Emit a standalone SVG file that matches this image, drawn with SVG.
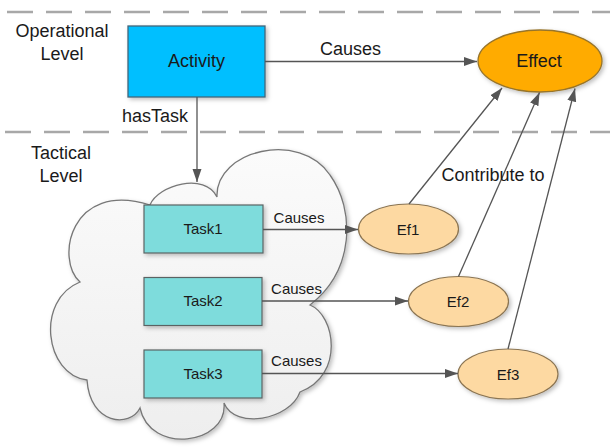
<svg xmlns="http://www.w3.org/2000/svg" width="610" height="447" viewBox="0 0 610 447">
  <style>
    .lvl { stroke: #a8a8a8; stroke-width: 2.5; stroke-dasharray: 26 13; fill: none; }
    .txt { font-family: "Liberation Sans", Arial, sans-serif; fill: #1a1a1a; }
    .big { font-size: 18px; }
    .small { font-size: 15px; }
    .conn { stroke: #555; stroke-width: 1.3; fill: none; }
    .task { fill: #7edcdc; stroke: #5a6464; stroke-width: 1.2; }
    .ef { fill: #fdd9a2; stroke: #8a7452; stroke-width: 1.2; }
  </style>
  <defs>
    <marker id="arrow" markerUnits="userSpaceOnUse" markerWidth="14" markerHeight="10" refX="13" refY="5" orient="auto">
      <path d="M0,0.5 L13,5 L0,9.5 Z" fill="#555"/>
    </marker>
    <linearGradient id="cloudFill" x1="0" y1="0" x2="0" y2="1">
      <stop offset="0" stop-color="#fbfbfb"/>
      <stop offset="1" stop-color="#eeeeee"/>
    </linearGradient>
    <filter id="shadow" x="-10%" y="-10%" width="130%" height="130%">
      <feDropShadow dx="2" dy="2" stdDeviation="2" flood-color="#000" flood-opacity="0.25"/>
    </filter>
  </defs>

  <!-- level separators -->
  <line class="lvl" x1="7" y1="12" x2="610" y2="12"/>
  <line class="lvl" x1="5" y1="132" x2="610" y2="132"/>

  <!-- level captions -->
  <g id="operational-level" class="txt big" text-anchor="middle">
    <text x="62" y="37">Operational</text>
    <text x="62" y="60">Level</text>
  </g>
  <g id="tactical-level" class="txt big" text-anchor="middle">
    <text x="61" y="159">Tactical</text>
    <text x="61" y="182">Level</text>
  </g>

  <!-- tactical cloud -->
  <g id="cloud">
    <path filter="url(#shadow)" fill="url(#cloudFill)" stroke="#777" stroke-width="1.3"
      d="M150,205 C158,185 205,172 217,197
         C215,150 300,130 330,175
         C355,210 355,270 310,305
         C335,315 345,375 300,392
         C290,420 235,430 224,403
         C228,445 150,455 140,408
         C130,428 90,425 87,380
         C45,375 35,300 80,282
         C55,260 70,180 150,205 Z"/>
  </g>

  <!-- nodes -->
  <g id="activity">
    <rect x="128" y="26" width="137" height="71" fill="#00bfff" stroke="#44667a" stroke-width="1.3" filter="url(#shadow)"/>
    <text class="txt big" x="196.5" y="67" text-anchor="middle">Activity</text>
  </g>
  <g id="effect">
    <ellipse cx="540" cy="61" rx="62" ry="31" fill="#ffab00" stroke="#97742a" stroke-width="1.3" filter="url(#shadow)"/>
    <text class="txt big" x="539" y="67" text-anchor="middle">Effect</text>
  </g>
  <g id="task1">
    <rect class="task" x="144" y="205" width="119" height="48" filter="url(#shadow)"/>
    <text class="txt small" x="203" y="234" text-anchor="middle">Task1</text>
  </g>
  <g id="task2">
    <rect class="task" x="144" y="277.5" width="118" height="48" filter="url(#shadow)"/>
    <text class="txt small" x="203" y="306" text-anchor="middle">Task2</text>
  </g>
  <g id="task3">
    <rect class="task" x="144" y="350" width="118" height="48" filter="url(#shadow)"/>
    <text class="txt small" x="203" y="379" text-anchor="middle">Task3</text>
  </g>
  <g id="ef1">
    <ellipse class="ef" cx="408.5" cy="229" rx="50" ry="25" filter="url(#shadow)"/>
    <text class="txt small" x="408" y="234.5" text-anchor="middle">Ef1</text>
  </g>
  <g id="ef2">
    <ellipse class="ef" cx="458.5" cy="301.5" rx="50" ry="25" filter="url(#shadow)"/>
    <text class="txt small" x="458" y="307" text-anchor="middle">Ef2</text>
  </g>
  <g id="ef3">
    <ellipse class="ef" cx="508" cy="374" rx="50" ry="25" filter="url(#shadow)"/>
    <text class="txt small" x="508" y="379.5" text-anchor="middle">Ef3</text>
  </g>

  <!-- connectors -->
  <g id="connectors">
    <line class="conn" x1="265" y1="61.5" x2="477" y2="61.5" marker-end="url(#arrow)"/>
    <line class="conn" x1="197" y1="97" x2="197" y2="182" marker-end="url(#arrow)"/>
    <line class="conn" x1="263" y1="229.5" x2="358" y2="229.5" marker-end="url(#arrow)"/>
    <line class="conn" x1="262" y1="301" x2="408" y2="301" marker-end="url(#arrow)"/>
    <line class="conn" x1="262" y1="373.5" x2="458" y2="373.5" marker-end="url(#arrow)"/>
    <line class="conn" x1="409" y1="204" x2="502" y2="88" marker-end="url(#arrow)"/>
    <line class="conn" x1="458.5" y1="276.5" x2="539.5" y2="92.5" marker-end="url(#arrow)"/>
    <line class="conn" x1="508" y1="349" x2="575" y2="88.5" marker-end="url(#arrow)"/>
  </g>

  <!-- connector labels -->
  <g id="labels" class="txt">
    <text class="big" x="350.5" y="55" text-anchor="middle">Causes</text>
    <text class="big" x="122" y="122">hasTask</text>
    <text class="big" x="493" y="181" text-anchor="middle">Contribute to</text>
    <text class="small" x="299" y="223" text-anchor="middle">Causes</text>
    <text class="small" x="296.5" y="294" text-anchor="middle">Causes</text>
    <text class="small" x="296.5" y="366" text-anchor="middle">Causes</text>
  </g>
</svg>
